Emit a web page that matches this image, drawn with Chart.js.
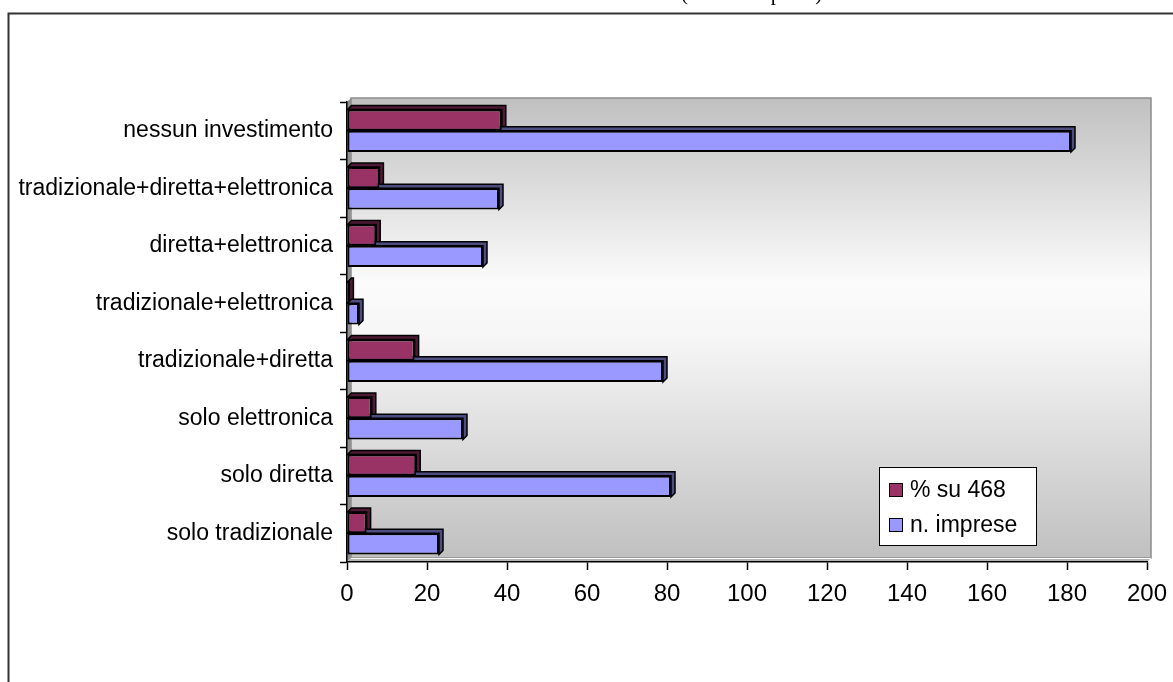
<!DOCTYPE html>
<html>
<head>
<meta charset="utf-8">
<script src="https://cdn.jsdelivr.net/npm/chart.js@4/dist/chart.umd.min.js"></script>
<style>
  html, body { margin: 0; padding: 0; background: #ffffff; }
  #wrap { width: 1173px; height: 682px; position: relative; }
</style>
</head>
<body>
<div id="wrap"><canvas id="c" width="1173" height="682"></canvas></div>
<script>
// Investment categories, listed top to bottom
const categories = [
  'nessun investimento',
  'tradizionale+diretta+elettronica',
  'diretta+elettronica',
  'tradizionale+elettronica',
  'tradizionale+diretta',
  'solo elettronica',
  'solo diretta',
  'solo tradizionale'
];
// Share of the 468 firms (%)
const percentuali = [38.7, 8.1, 7.3, 0.6, 16.9, 6.2, 17.3, 4.9];
// Number of firms
const imprese = [181, 38, 34, 3, 79, 29, 81, 23];
const seriesNames = ['% su 468', 'n. imprese'];
const titleText = '(su 468 imprese)';

const FONT = '"Liberation Sans", Arial, sans-serif';
const DEPTH = 4;

// Outer frame, title and the shaded 3D panel behind the bars
const panelPlugin = {
  id: 'panel',
  beforeDraw(chart) {
    const ctx = chart.ctx;
    const a = chart.chartArea;
    ctx.save();
    ctx.fillStyle = '#ffffff';
    ctx.fillRect(0, 0, chart.width, chart.height);

    // frame
    ctx.strokeStyle = '#333333';
    ctx.lineWidth = 2;
    ctx.strokeRect(8.5, 13.5, chart.width + 20, chart.height + 20);

    // title, sitting above the top edge of the page
    ctx.fillStyle = '#000000';
    ctx.font = '21px "Liberation Serif", "Times New Roman", serif';
    ctx.textBaseline = 'alphabetic';
    ctx.textAlign = 'left';
    ctx.fillText(titleText, 681, 0);

    // back wall with vertical gradient
    const g = ctx.createLinearGradient(0, a.top - DEPTH, 0, a.bottom - DEPTH);
    g.addColorStop(0, '#c0c0c0');
    g.addColorStop(0.4, '#fbfbfb');
    g.addColorStop(0.52, '#f6f6f6');
    g.addColorStop(1, '#c0c0c0');
    ctx.fillStyle = g;
    ctx.fillRect(a.left + DEPTH, a.top - DEPTH, a.width, a.height);
    ctx.strokeStyle = '#8c8c8c';
    ctx.lineWidth = 1.5;
    ctx.strokeRect(a.left + DEPTH, a.top - DEPTH, a.width, a.height);

    // left side wall
    ctx.fillStyle = '#8f8f8f';
    ctx.beginPath();
    ctx.moveTo(a.left, a.top);
    ctx.lineTo(a.left + DEPTH, a.top - DEPTH);
    ctx.lineTo(a.left + DEPTH, a.bottom - DEPTH);
    ctx.lineTo(a.left, a.bottom);
    ctx.closePath();
    ctx.fill();

    // floor
    ctx.fillStyle = '#b4b4b4';
    ctx.beginPath();
    ctx.moveTo(a.left, a.bottom);
    ctx.lineTo(a.left + DEPTH, a.bottom - DEPTH);
    ctx.lineTo(a.right + DEPTH, a.bottom - DEPTH);
    ctx.lineTo(a.right, a.bottom);
    ctx.closePath();
    ctx.fill();
    ctx.strokeStyle = '#ffffff';
    ctx.lineWidth = 1;
    ctx.beginPath();
    ctx.moveTo(a.left + DEPTH, a.bottom - DEPTH + 0.5);
    ctx.lineTo(a.right + DEPTH, a.bottom - DEPTH + 0.5);
    ctx.stroke();
    ctx.restore();
  }
};

// Top and side faces of each bar, drawn before the front faces
const depthPlugin = {
  id: 'depth',
  beforeDatasetsDraw(chart) {
    const ctx = chart.ctx;
    const faceColors = ['#4f1a35', '#4d4d80'];
    ctx.save();
    ctx.lineWidth = 1.5;
    ctx.strokeStyle = '#000000';
    chart.data.datasets.forEach((ds, di) => {
      const meta = chart.getDatasetMeta(di);
      meta.data.forEach(bar => {
        const p = bar.getProps(['x', 'y', 'base', 'height'], true);
        const left = Math.min(p.base, p.x), right = Math.max(p.base, p.x);
        const top = p.y - p.height / 2, bottom = p.y + p.height / 2;
        ctx.fillStyle = faceColors[di];
        ctx.beginPath();
        ctx.moveTo(left, top);
        ctx.lineTo(left + DEPTH, top - DEPTH);
        ctx.lineTo(right + DEPTH, top - DEPTH);
        ctx.lineTo(right + DEPTH, bottom - DEPTH);
        ctx.lineTo(right, bottom);
        ctx.lineTo(right, top);
        ctx.closePath();
        ctx.fill();
        ctx.stroke();
      });
    });
    ctx.restore();
  }
};

// Boxed legend inside the plot
const legendPlugin = {
  id: 'boxLegend',
  afterDraw(chart) {
    const ctx = chart.ctx;
    const x0 = 879, y0 = 467, w = 157, h = 78;
    ctx.save();
    ctx.fillStyle = '#ffffff';
    ctx.fillRect(x0, y0, w, h);
    ctx.strokeStyle = '#000000';
    ctx.lineWidth = 1;
    ctx.strokeRect(x0 + 0.5, y0 + 0.5, w, h);
    ctx.font = '23px ' + FONT;
    ctx.textBaseline = 'middle';
    ctx.textAlign = 'left';
    chart.data.datasets.forEach((ds, i) => {
      const cy = 490 + i * 35;
      ctx.fillStyle = ds.backgroundColor;
      ctx.fillRect(889, cy - 7, 14, 14);
      ctx.strokeStyle = '#000000';
      ctx.strokeRect(889.5, cy - 6.5, 13, 13);
      ctx.fillStyle = '#000000';
      ctx.fillText(ds.label, 910, cy + 1);
    });
    ctx.restore();
  }
};

new Chart(document.getElementById('c'), {
  type: 'bar',
  data: {
    labels: categories,
    datasets: [
      {
        label: seriesNames[0],
        data: percentuali,
        backgroundColor: '#993366',
        borderColor: '#000000',
        borderWidth: 2,
        borderSkipped: false
      },
      {
        label: seriesNames[1],
        data: imprese,
        backgroundColor: '#9999ff',
        borderColor: '#000000',
        borderWidth: 2,
        borderSkipped: false
      }
    ]
  },
  options: {
    indexAxis: 'y',
    responsive: false,
    animation: false,
    devicePixelRatio: 1,
    categoryPercentage: 0.74,
    barPercentage: 1.0,
    layout: { padding: { left: 0, top: 102, right: 26, bottom: 0 } },
    plugins: {
      legend: { display: false },
      tooltip: { enabled: false }
    },
    scales: {
      x: {
        min: 0,
        max: 200,
        ticks: {
          stepSize: 20,
          color: '#000000',
          font: { family: FONT, size: 24 },
          padding: 10
        },
        grid: {
          drawOnChartArea: false,
          color: '#000000',
          tickLength: 8,
          tickWidth: 1.5
        },
        border: { color: '#000000', width: 1.5 },
        afterFit(scale) {
          scale.height = 120;
          scale.paddingLeft = 0;
          scale.paddingRight = 0;
        }
      },
      y: {
        ticks: {
          color: '#000000',
          font: { family: FONT, size: 23 },
          padding: 7
        },
        grid: {
          drawOnChartArea: false,
          color: '#000000',
          tickLength: 7,
          tickWidth: 1.5,
          offset: true
        },
        border: { color: '#000000', width: 1.5 },
        afterFit(scale) { scale.width = 347; }
      }
    }
  },
  plugins: [panelPlugin, depthPlugin, legendPlugin]
});
</script>
</body>
</html>
